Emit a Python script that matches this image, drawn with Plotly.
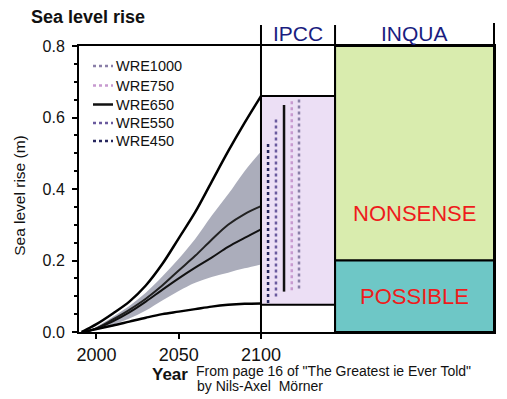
import plotly.graph_objects as go

# ---------------- data ----------------
years = [1991, 2000, 2010, 2020, 2030, 2040, 2050, 2060, 2070, 2080, 2090, 2100]
upper_env = [0.0, 0.022, 0.052, 0.085, 0.13, 0.19, 0.262, 0.335, 0.42, 0.505, 0.585, 0.66]
lower_env = [0.0, 0.008, 0.018, 0.029, 0.04, 0.05, 0.057, 0.064, 0.071, 0.076, 0.079, 0.08]

band_years = [1993, 2000, 2010, 2020, 2030, 2040, 2050, 2060, 2070, 2080, 2090, 2100]
band_hi = [0.0, 0.015, 0.043, 0.073, 0.11, 0.155, 0.205, 0.26, 0.325, 0.385, 0.45, 0.505]
band_lo = [0.0, 0.005, 0.02, 0.038, 0.06, 0.088, 0.115, 0.138, 0.154, 0.166, 0.178, 0.189]
mid_a = [0.0, 0.01, 0.035, 0.062, 0.093, 0.13, 0.172, 0.213, 0.258, 0.3, 0.33, 0.352]
mid_b = [0.0, 0.01, 0.03, 0.055, 0.085, 0.118, 0.15, 0.18, 0.208, 0.238, 0.263, 0.287]

# IPCC 2100 ranges per scenario (legend order)
scenarios = ["WRE1000", "WRE750", "WRE650", "WRE550", "WRE450"]
scen_x = [2123.1, 2118.7, 2114.0, 2109.1, 2104.3]
scen_top = [0.654, 0.649, 0.635, 0.602, 0.532]
scen_bot = [0.122, 0.117, 0.113, 0.099, 0.081]
scen_color = ["#8a7fa8", "#c79ad0", "#111111", "#6a5a9e", "#27275e"]
scen_dash = ["dot", "dot", "solid", "dot", "dot"]

ipcc_range = [0.076, 0.66]
inqua_nonsense = [0.2, 0.8]
inqua_possible = [0.0, 0.2]

x_ticks = [2000, 2050, 2100]
y_ticks = [0.0, 0.2, 0.4, 0.6, 0.8]

X0, X1 = 1989.4, 2241.6
IPCC_X = [2100, 2145]
INQUA_X = [2145, X1]

FONT = "Liberation Sans, Arial, sans-serif"
PLOT_W, PLOT_H = 415, 286  # plot area size in px


def xp(v):
    return (v - X0) / (X1 - X0)


fig = go.Figure()

# shaded band
fig.add_trace(go.Scatter(x=band_years, y=band_lo, mode="lines", line=dict(width=0, shape="spline"),
                         showlegend=False, hoverinfo="skip"))
fig.add_trace(go.Scatter(x=band_years, y=band_hi, mode="lines", line=dict(width=0, shape="spline"),
                         fill="tonexty", fillcolor="rgba(148,150,168,0.78)", showlegend=False,
                         hoverinfo="skip"))
# central lines
fig.add_trace(go.Scatter(x=band_years, y=mid_a, mode="lines", line=dict(color="#222222", width=2, shape="spline"),
                         showlegend=False))
fig.add_trace(go.Scatter(x=band_years, y=mid_b, mode="lines", line=dict(color="#111111", width=2, shape="spline"),
                         showlegend=False))
# envelopes
fig.add_trace(go.Scatter(x=years, y=upper_env, mode="lines", line=dict(color="black", width=2.5, shape="spline"),
                         showlegend=False))
fig.add_trace(go.Scatter(x=years, y=lower_env, mode="lines", line=dict(color="black", width=2.5, shape="spline"),
                         showlegend=False))

# IPCC scenario ranges
for name, x, t, b, c, d in zip(scenarios, scen_x, scen_top, scen_bot, scen_color, scen_dash):
    fig.add_trace(go.Scatter(x=[x, x], y=[b, t], mode="lines", name=name, showlegend=False,
                             line=dict(color=c, width=2.5, dash=d)))

shapes = [
    dict(type="rect", xref="x", yref="y", x0=IPCC_X[0], x1=IPCC_X[1], y0=ipcc_range[0], y1=ipcc_range[1],
         fillcolor="#ecdff5", line=dict(color="black", width=2), layer="below"),
    dict(type="rect", xref="x", yref="y", x0=INQUA_X[0], x1=INQUA_X[1], y0=inqua_nonsense[0], y1=inqua_nonsense[1],
         fillcolor="#d9ecae", line=dict(color="black", width=2), layer="below"),
    dict(type="rect", xref="x", yref="y", x0=INQUA_X[0], x1=INQUA_X[1], y0=inqua_possible[0], y1=inqua_possible[1],
         fillcolor="#6ec7c6", line=dict(color="black", width=2), layer="below"),
]
for xv, ytop in [(IPCC_X[0], 1.073), (IPCC_X[1], 1.073), (INQUA_X[1], 1.08)]:
    shapes.append(dict(type="line", xref="paper", yref="paper", x0=xp(xv), x1=xp(xv), y0=0, y1=ytop,
                       line=dict(color="black", width=2)))

annotations = [
    dict(text="<b>Sea level rise</b>", xref="paper", yref="paper", x=-0.121, y=1.101, xanchor="left",
         yanchor="middle", showarrow=False, font=dict(size=18, color="#111")),
    dict(text="Sea level rise (m)", xref="paper", yref="paper", x=-0.145, y=0.479, textangle=-90,
         xanchor="center", yanchor="middle", showarrow=False, font=dict(size=15.5, color="#111")),
    dict(text="<b>Year</b>", xref="paper", yref="paper", x=0.174, y=-0.147, xanchor="left", yanchor="middle",
         showarrow=False, borderpad=0, font=dict(size=17, color="#111")),
    dict(text="From page 16 of \"The Greatest ie Ever Told\"", xref="paper",
         yref="paper", x=0.279, y=-0.137, xanchor="left", yanchor="middle", align="left", showarrow=False,
         borderpad=0, font=dict(size=14, color="#111")),
    dict(text="by Nils-Axel  Mörner", xref="paper",
         yref="paper", x=0.281, y=-0.190, xanchor="left", yanchor="middle", align="left", showarrow=False,
         borderpad=0, font=dict(size=14, color="#111")),
    dict(text="IPCC", xref="paper", yref="paper", x=xp(sum(IPCC_X) / 2), y=1.045, xanchor="center",
         yanchor="middle", showarrow=False, font=dict(size=21, color="#1a1d80")),
    dict(text="INQUA", xref="paper", yref="paper", x=xp(sum(INQUA_X) / 2), y=1.045, xanchor="center",
         yanchor="middle", showarrow=False, font=dict(size=21, color="#1a1d80")),
    dict(text="NONSENSE", xref="x", yref="y", x=sum(INQUA_X) / 2, y=0.332, xanchor="center",
         yanchor="middle", showarrow=False, font=dict(size=22, color="#ee1c1c")),
    dict(text="POSSIBLE", xref="x", yref="y", x=sum(INQUA_X) / 2, y=0.1, xanchor="center",
         yanchor="middle", showarrow=False, font=dict(size=22, color="#ee1c1c")),
]

# legend drawn as line samples + labels (rows placed in px from plot top)
leg_rows_px = [20, 39.5, 58.5, 77, 95]
leg_x0, leg_x1, leg_tx = 14 / PLOT_W, 34 / PLOT_W, 35 / PLOT_W
for name, c, d, rpx in zip(scenarios, scen_color, scen_dash, leg_rows_px):
    yy = 1 - rpx / PLOT_H
    shapes.append(dict(type="line", xref="paper", yref="paper", x0=leg_x0, x1=leg_x1, y0=yy, y1=yy,
                       line=dict(color=c, width=2.5, dash=d)))
    annotations.append(dict(text=name, xref="paper", yref="paper", x=leg_tx, y=yy, xanchor="left",
                            yanchor="middle", showarrow=False, font=dict(size=14.5, color="#111")))

fig.update_layout(
    width=499, height=391, autosize=False,
    margin=dict(l=71, r=13, t=38, b=67, pad=0),
    paper_bgcolor="white", plot_bgcolor="white",
    font=dict(family=FONT, color="#111"),
    shapes=shapes, annotations=annotations,
    showlegend=False,
    xaxis=dict(range=[X0, X1], tickvals=x_ticks, ticktext=[str(v) for v in x_ticks], ticks="outside",
               ticklen=5, tickwidth=2, tickcolor="black", showgrid=False, zeroline=False,
               showline=True, linewidth=2, linecolor="black", mirror=True,
               tickfont=dict(size=18, color="#111")),
    yaxis=dict(range=[0, 0.8], tickvals=y_ticks, tickformat=".1f", ticks="outside", ticklen=5, tickwidth=2,
               tickcolor="black", showgrid=False, zeroline=False, showline=True, linewidth=2,
               linecolor="black", mirror=True, tickfont=dict(size=16, color="#111"),
               ticklabelstandoff=4,
               minor=dict(dtick=0.05, ticks="outside", ticklen=3, tickwidth=1.5, tickcolor="black",
                          showgrid=False)),
)

fig.write_html("out.html")
